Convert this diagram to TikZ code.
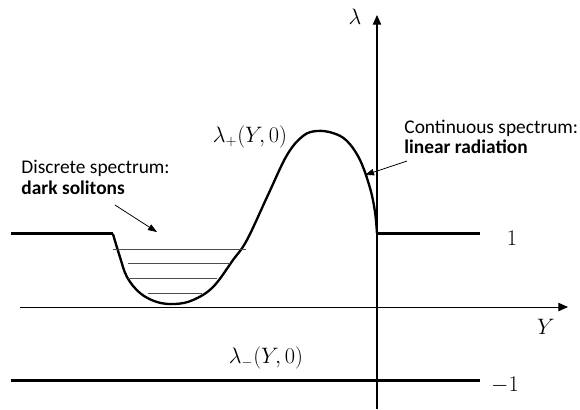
\documentclass[tikz,border=0pt]{standalone}
\usepackage{fontspec}
\newfontfamily\notefont{Carlito}
\usetikzlibrary{arrows.meta}
\tikzset{
  axis/.style={line width=0.8pt, -{Triangle[length=7.5pt,width=6.5pt]}},
  level/.style={line width=2pt},
  bound/.style={black!70, line width=0.7pt},
  note/.style={font=\notefont\fontsize{15}{16}\selectfont, align=left, inner sep=0pt},
  pointer/.style={line width=0.6pt, -{Triangle[length=7pt,width=5pt]}},
  maths/.style={font=\fontsize{16}{18}\selectfont, inner sep=0pt}
}
\begin{document}
\begin{tikzpicture}[x=2cm, y=2cm]
    \useasboundingbox (-5.129,-1.388) rectangle (2.762,4.177);
    % axes
    \draw[axis] (-4.857,0) -- (2.599,0);
    \draw[axis] (0,-1.388) -- (0,3.973);
    \node[maths] (lam) at (-0.299,3.946) {$\lambda$};
    \node[maths] (Yax) at (2.299,-0.272) {$Y$};

    % continuum edges
    \draw[level] (-4.980,1) -- (-3.592,1);
    \draw[level] (0,1) -- (1.401,1);
    \node[maths] (one) at (1.837,0.94) {$1$};
    \draw[level, line width=2.4pt] (-4.980,-1) -- (1.401,-1);
    \node[maths] (minusone) at (1.741,-1.061) {$-1$};
    \node[maths] (lminus) at (-1.510,-0.694) {$\lambda_{-}(Y,0)$};

    % upper band edge
    \draw[line width=1.8pt, line join=round] (-3.592,1) -- plot[smooth, tension=0.6] coordinates {
        (-3.592,0.993) (-3.497,0.680) (-3.401,0.408) (-3.224,0.190) (-2.993,0.068)
        (-2.748,0.041) (-2.503,0.095) (-2.231,0.272) (-1.959,0.639) (-1.769,0.912)
        (-1.483,1.524) (-1.224,2.068) (-1.007,2.327) (-0.816,2.395) (-0.599,2.367)
        (-0.408,2.259) (-0.231,2.000) (-0.095,1.619) (-0.027,1.293) (0,1)};
    \node[maths] (lplus) at (-1.728,2.313) {$\lambda_{+}(Y,0)$};

    % discrete eigenvalues
    \draw[bound] (-3.592,0.789) -- (-1.782,0.789);
    \draw[bound] (-3.388,0.599) -- (-2.000,0.599);
    \draw[bound] (-3.388,0.395) -- (-2.177,0.395);
    \draw[bound] (-3.116,0.190) -- (-2.381,0.190);

    % notes
    \node[note, anchor=west] (disc) at (-4.84,1.76) {Discrete spectrum:\\\textbf{dark solitons}};
    \coordinate (discfrom) at (-3.565,1.388);
    \coordinate (discto) at (-2.993,1.020);
    \draw[pointer] (discfrom) -- (discto);
    \node[note, anchor=west] (cont) at (0.37,2.313) {Continuous spectrum:\\\textbf{linear radiation}};
    \coordinate (contfrom) at (0.408,1.986);
    \coordinate (contto) at (-0.163,1.796);
    \draw[pointer] (contfrom) -- (contto);
\end{tikzpicture}
\end{document}
